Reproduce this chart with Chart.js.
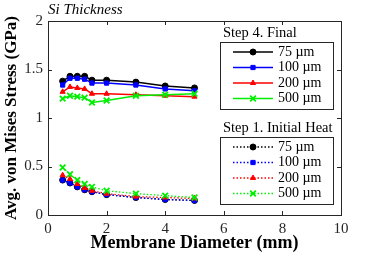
<!DOCTYPE html>
<html>
<head>
<meta charset="utf-8">
<script src="https://cdn.jsdelivr.net/npm/chart.js@4.4.1/dist/chart.umd.min.js"></script>
<style>
  html, body { margin: 0; padding: 0; background: #fff; }
  #wrap { width: 374px; height: 256px; }
</style>
</head>
<body>
<div id="wrap"><canvas id="stressChart" width="374" height="256"></canvas></div>
<script>
// membrane diameters (mm)
const diameters = [0.5, 0.75, 1, 1.25, 1.5, 2, 3, 4, 5];
const thicknessLabels = ['75 \u00b5m', '100 \u00b5m', '200 \u00b5m', '500 \u00b5m'];

// Step 4. Final (GPa)
const final75 = [1.38, 1.43, 1.43, 1.43, 1.39, 1.39, 1.37, 1.33, 1.31];
const final100 = [1.34, 1.41, 1.41, 1.40, 1.36, 1.36, 1.34, 1.30, 1.28];
const final200 = [1.27, 1.32, 1.31, 1.30, 1.25, 1.25, 1.24, 1.23, 1.22];
const final500 = [1.20, 1.23, 1.22, 1.21, 1.16, 1.18, 1.23, 1.24, 1.25];

// Step 1. Initial Heat (GPa)
const init75 = [0.36, 0.33, 0.29, 0.26, 0.24, 0.21, 0.18, 0.16, 0.15];
const init100 = [0.36, 0.33, 0.29, 0.26, 0.24, 0.21, 0.18, 0.16, 0.15];
const init200 = [0.41, 0.37, 0.32, 0.28, 0.25, 0.22, 0.19, 0.18, 0.17];
const init500 = [0.49, 0.42, 0.36, 0.32, 0.29, 0.25, 0.22, 0.20, 0.18];

const xTicks = [0, 2, 4, 6, 8, 10];
const yTicks = [0, 0.5, 1, 1.5, 2];

const colors = ['#000000', '#0000ff', '#ff0000', '#00ee00'];
const markers = ['circle', 'rect', 'triangle', 'crossRot'];
const FONT = '"Liberation Serif", "DejaVu Serif", serif';

function toXY(vals) {
    return vals.map((v, i) => ({ x: diameters[i], y: v }));
}

let drawSeq = 0;
function makeSet(label, vals, idx, dotted, group) {
    drawSeq++;
    return {
        label: label,
        group: group,
        order: 100 - drawSeq, // later series drawn on top, like the original
        data: toXY(vals),
        borderColor: colors[idx],
        backgroundColor: colors[idx],
        borderWidth: dotted ? 1.3 : 1.5,
        borderDash: dotted ? [1.5, 2] : [],
        pointStyle: markers[idx],
        pointRadius: markers[idx] === 'crossRot' ? 4 : 3,
        pointBorderWidth: markers[idx] === 'crossRot' ? 1.8 : 1,
        tension: 0
    };
}

const finals = [final75, final100, final200, final500];
const inits = [init75, init100, init200, init500];
const datasets = [];
finals.forEach((v, i) => datasets.push(makeSet(thicknessLabels[i], v, i, false, 'final')));
inits.forEach((v, i) => datasets.push(makeSet(thicknessLabels[i], v, i, true, 'init')));

// box + inward ticks + title + two legend boxes
const decorPlugin = {
    id: 'decor',
    afterDraw(chart) {
        const ctx = chart.ctx;
        const a = chart.chartArea;
        const xs = chart.scales.x, ys = chart.scales.y;
        ctx.save();
        ctx.strokeStyle = '#262626';
        ctx.lineWidth = 1;
        ctx.strokeRect(a.left + 0.5, a.top + 0.5, a.right - a.left, a.bottom - a.top);
        xTicks.forEach(t => {
            const px = Math.round(xs.getPixelForValue(t)) + 0.5;
            ctx.beginPath();
            ctx.moveTo(px, a.bottom); ctx.lineTo(px, a.bottom - 4);
            ctx.moveTo(px, a.top); ctx.lineTo(px, a.top + 4);
            ctx.stroke();
        });
        yTicks.forEach(t => {
            const py = Math.round(ys.getPixelForValue(t)) + 0.5;
            ctx.beginPath();
            ctx.moveTo(a.left, py); ctx.lineTo(a.left + 4, py);
            ctx.moveTo(a.right, py); ctx.lineTo(a.right - 4, py);
            ctx.stroke();
        });

        // panel title
        ctx.fillStyle = '#000';
        ctx.font = 'italic 15px ' + FONT;
        ctx.textBaseline = 'middle';
        ctx.textAlign = 'left';
        ctx.fillText('Si Thickness', 48, 10);

        // legends
        const drawLegend = (title, group, boxTop) => {
            const bx = 220, bw = 113, bh = 67;
            ctx.font = '14.5px ' + FONT;
            ctx.fillStyle = '#000';
            ctx.textAlign = 'left';
            ctx.fillText(title, 223, boxTop - 9);
            ctx.fillStyle = '#fff';
            ctx.fillRect(bx, boxTop, bw, bh);
            ctx.strokeStyle = '#262626';
            ctx.lineWidth = 1;
            ctx.strokeRect(bx + 0.5, boxTop + 0.5, bw, bh);
            let row = 0;
            chart.data.datasets.forEach((ds, i) => {
                if (ds.group !== group) return;
                const y = boxTop + 10 + row * 15.5;
                ctx.strokeStyle = ds.borderColor;
                ctx.lineWidth = ds.borderWidth;
                ctx.setLineDash(ds.borderDash);
                ctx.beginPath();
                ctx.moveTo(233, y); ctx.lineTo(273, y);
                ctx.stroke();
                ctx.setLineDash([]);
                ctx.lineWidth = ds.pointBorderWidth;
                ctx.fillStyle = ds.backgroundColor;
                Chart.helpers.drawPoint(ctx, {
                    pointStyle: ds.pointStyle,
                    radius: ds.pointRadius,
                    borderWidth: ds.pointBorderWidth,
                    rotation: 0
                }, 253, y);
                ctx.fillStyle = '#000';
                ctx.font = '14px ' + FONT;
                ctx.fillText(ds.label, 278, y);
                row++;
            });
        };
        drawLegend('Step 4. Final', 'final', 42);
        drawLegend('Step 1. Initial Heat', 'init', 137);
        ctx.restore();
    }
};

const ctx = document.getElementById('stressChart').getContext('2d');
new Chart(ctx, {
    type: 'line',
    data: { datasets: datasets },
    options: {
        responsive: false,
        animation: false,
        layout: { padding: { left: 0, top: 21, right: 33, bottom: 0 } },
        plugins: {
            legend: { display: false },
            tooltip: { enabled: false }
        },
        scales: {
            x: {
                type: 'linear',
                min: 0,
                max: 10,
                afterFit: s => { s.height = 41; },
                afterBuildTicks: s => { s.ticks = xTicks.map(v => ({ value: v })); },
                grid: { display: false, drawTicks: false },
                border: { display: false },
                ticks: {
                    color: '#262626',
                    padding: 5,
                    maxRotation: 0,
                    callback: v => String(v),
                    font: { family: FONT, size: 15 }
                },
                title: {
                    display: true,
                    text: 'Membrane Diameter (mm)',
                    color: '#000',
                    padding: { top: 0, bottom: 2 },
                    font: { family: FONT, size: 18, weight: 'bold' }
                }
            },
            y: {
                type: 'linear',
                min: 0,
                max: 2,
                afterFit: s => { s.width = 48; },
                afterBuildTicks: s => { s.ticks = yTicks.map(v => ({ value: v })); },
                grid: { display: false, drawTicks: false },
                border: { display: false },
                ticks: {
                    color: '#262626',
                    padding: 5,
                    callback: v => String(v),
                    font: { family: FONT, size: 15 }
                },
                title: {
                    display: true,
                    text: 'Avg. von Mises Stress (GPa)',
                    color: '#000',
                    padding: { top: 1, bottom: 0 },
                    font: { family: FONT, size: 17, weight: 'bold' }
                }
            }
        }
    },
    plugins: [decorPlugin]
});
</script>
</body>
</html>
